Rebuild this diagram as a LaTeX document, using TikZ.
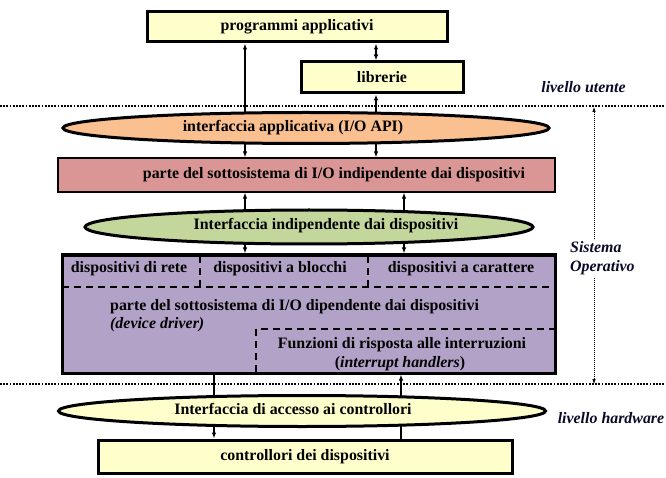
\documentclass[tikz,border=0pt]{standalone}
\usepackage{fontspec}
\setmainfont{Liberation Serif}
\usetikzlibrary{arrows.meta,backgrounds,shapes.geometric}
\definecolor{lightyel}{HTML}{FFFFCC}
\definecolor{apiorange}{HTML}{FAC090}
\definecolor{rosebox}{HTML}{D99694}
\definecolor{greenov}{HTML}{C3D69B}
\definecolor{purplebox}{HTML}{B3A2C7}
\definecolor{notecol}{HTML}{0A0A28}
\begin{document}
\begin{tikzpicture}[x=1pt,y=-1pt,
  font=\fontsize{15.9}{18}\selectfont\bfseries,
  box/.style={rectangle, draw, line width=3pt, inner sep=0pt},
  oval/.style={ellipse, draw, line width=3pt, inner sep=0pt},
  lbl/.style={inner sep=0pt},
  conn/.style={line width=1.2pt, -{Latex[length=6pt,width=4.5pt]}},
  dconn/.style={line width=1.2pt, {Latex[length=6pt,width=4.5pt]}-{Latex[length=6pt,width=4.5pt]}},
  plainconn/.style={line width=1.2pt},
  dashline/.style={line width=2.5pt, dash pattern=on 7pt off 5pt},
  sepline/.style={line width=2pt, dash pattern=on 1.8pt off 1.4pt},
  vdotted/.style={line width=0.6pt, dash pattern=on 1pt off 1pt, {Latex[length=5pt,width=3.5pt]}-{Latex[length=5pt,width=3.5pt]}},
  note/.style={font=\fontsize{15.9}{19}\selectfont\bfseries\itshape, text=notecol, inner sep=0pt}
]
\useasboundingbox (0,0) rectangle (666,478);

% x positions of connectors
\coordinate (xa) at (245,0);
\coordinate (xb) at (376,0);
\coordinate (xc) at (404,0);
\coordinate (xd) at (214,0);
\coordinate (xe) at (401,0);

% shapes
\node[box, fill=lightyel, minimum width=300pt, minimum height=30pt] (prog) at (297,27) {programmi applicativi};
\node[box, fill=lightyel, minimum width=162pt, minimum height=31pt] (lib) at (382,77.5) {librerie};
\node[oval, fill=apiorange, minimum width=486pt, minimum height=31pt] (api) at (306,128) {};
\node[lbl] (apit) at (293,128) {interfaccia applicativa (I/O API)};
\node[rectangle, draw, line width=1.2pt, fill=rosebox, inner sep=0pt, minimum width=497pt, minimum height=34pt] (indep) at (306.5,175) {};
\node[lbl] (indept) at (334,175) {parte del sottosistema di I/O indipendente dai dispositivi};
\node[oval, fill=greenov, minimum width=448pt, minimum height=34pt] (green) at (309,227) {};
\node[lbl] (greent) at (326,226) {Interfaccia indipendente dai dispositivi};
\node[box, fill=purplebox, minimum width=493pt, minimum height=118pt] (purple) at (308.5,314) {};
\node[oval, fill=lightyel, minimum width=487pt, minimum height=31pt] (acc) at (302,411) {};
\node[lbl] (acct) at (293,409) {Interfaccia di accesso ai controllori};
\node[box, fill=lightyel, minimum width=414pt, minimum height=33pt] (ctrl) at (305,456.5) {controllori dei dispositivi};

% inside the purple box
\coordinate (d1t) at (200,256);
\coordinate (d1b) at (200,287);
\coordinate (d2t) at (368,256);
\coordinate (d2b) at (368,287);
\coordinate (hl) at (62,287);
\coordinate (hr) at (555,287);
\draw[dashline] (d1t) -- (d1b);
\draw[dashline] (d2t) -- (d2b);
\draw[dashline] (hl) -- (hr);
\node[lbl] (rete) at (129,269) {dispositivi di rete};
\node[lbl] (blocchi) at (280,269) {dispositivi a blocchi};
\node[lbl] (caratt) at (461,269) {dispositivi a carattere};
\node[lbl, anchor=west] (dip) at (110,307) {parte del sottosistema di I/O dipendente dai dispositivi};
\node[lbl, anchor=west] (dd) at (110,325) {\itshape (device driver)};
\coordinate (Lb) at (256,372);
\coordinate (Lc) at (256,329);
\coordinate (Lr) at (554,329);
\draw[dashline] (Lb) -- (Lc) -- (Lr);
\node[lbl] (funz) at (402,345) {Funzioni di risposta alle interruzioni};
\node[lbl] (ih) at (400,364) {(\textit{interrupt handlers})};

% separators
\coordinate (s1l) at (0,106);
\coordinate (s1r) at (666,106);
\coordinate (s2l) at (0,384);
\coordinate (s2r) at (666,384);
\draw[sepline] (s1l) -- (s1r);
\draw[sepline] (s2l) -- (s2r);

% side notes
\coordinate (vt) at (594,107);
\coordinate (vb) at (594,384);
\draw[vdotted] (vt) -- (vb);
\node[note, fill=white, inner sep=2pt, anchor=west, align=left] (so) at (568,258.5) {Sistema\\Operativo};
\node[note] (lu) at (583.5,87) {livello utente};
\node[note] (lh) at (611,418) {livello hardware};

% connectors (behind the shapes)
\begin{pgfonlayer}{background}
\draw[conn] (api.center -| xa) -- (prog.south -| xa);
\draw[dconn] (prog.south -| xb) -- (lib.north -| xb);
\draw[conn] (api.center -| xb) -- (lib.south -| xb);
\draw[conn] (api.center -| xa) -- (indep.north -| xa);
\draw[conn] (api.center -| xb) -- (indep.north -| xb);
\draw[conn] (green.center -| xa) -- (indep.south -| xa);
\draw[conn] (green.center -| xc) -- (indep.south -| xc);
\draw[conn] (green.center -| xa) -- (purple.north -| xa);
\draw[conn] (green.center -| xc) -- (purple.north -| xc);
\draw[plainconn] (purple.south -| xd) -- (acc.center -| xd);
\draw[conn] (acc.center -| xd) -- (ctrl.north -| xd);
\draw[conn] (acc.center -| xe) -- (purple.south -| xe);
\draw[plainconn] (ctrl.north -| xe) -- (acc.center -| xe);
\end{pgfonlayer}
\end{tikzpicture}
\end{document}
